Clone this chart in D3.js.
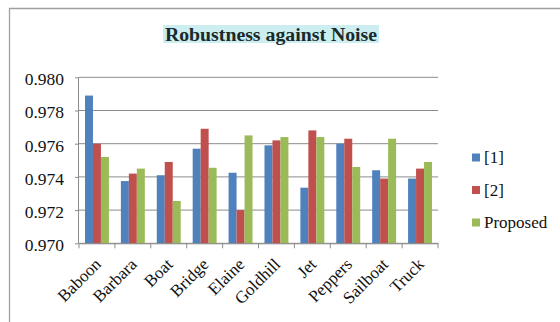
<!DOCTYPE html>
<html><head><meta charset="utf-8">
<script src="https://cdn.jsdelivr.net/npm/d3@7"></script>
<style>body{margin:0;background:#fff}svg{display:block}
text{font-family:"Liberation Serif","Times New Roman",serif}</style>
</head><body>
<svg id="c" width="560" height="322"></svg>
<script>
const categories = ["Baboon","Barbara","Boat","Bridge","Elaine","Goldhill","Jet","Peppers","Sailboat","Truck"];
const seriesNames = ["[1]","[2]","Proposed"];
const ref1 = [0.9789,0.97375,0.9741,0.9757,0.97425,0.9759,0.97335,0.9760,0.9744,0.9739];
const ref2 = [0.9760,0.9742,0.9749,0.9769,0.9720,0.9762,0.9768,0.9763,0.9739,0.9745];
const proposed = [0.9752,0.9745,0.97255,0.97455,0.9765,0.9764,0.9764,0.9746,0.9763,0.9749];
const yTicks = [0.970,0.972,0.974,0.976,0.978,0.980];
const colors = ["#4F81BD","#C0504D","#9BBB59"];
const title = "Robustness against Noise";

const series = [ref1, ref2, proposed];
const svg = d3.select("#c");
const pL = 79, pR = 438, pT = 77.3, pB = 243.3;

// outer border
svg.append("path").attr("d","M9.5,322 V8.5 H560").attr("fill","none").attr("stroke","#a0a0a0").attr("stroke-width",1.3);

const x = d3.scaleBand().domain(categories).range([pL,pR]).padding(0);
const bw = x.bandwidth();
const barW = bw/4.5;
const y = d3.scaleLinear().domain([0.970,0.980]).range([pB,pT]);

// gridlines
svg.append("g").selectAll("line").data(yTicks).join("line")
  .attr("x1",pL).attr("x2",pR).attr("y1",d=>y(d)).attr("y2",d=>y(d))
  .attr("stroke","#8c8c8c").attr("stroke-width",1);

// bars
const g = svg.append("g");
series.forEach((s,si)=>{
  g.selectAll(null).data(s).join("rect")
    .attr("x",(d,i)=>x(categories[i]) + barW*0.75 + si*barW)
    .attr("width",barW)
    .attr("y",d=>y(d))
    .attr("height",d=>y(0.970)-y(d))
    .attr("fill",colors[si]);
});

// y axis
const ya = svg.append("g").attr("transform",`translate(${pL},0)`)
  .call(d3.axisLeft(y).tickValues(yTicks).tickFormat(d3.format(".3f")).tickSize(4).tickPadding(11));
ya.select(".domain").attr("stroke","#8c8c8c").attr("d",`M-0.5,${pT}V${pB}`);
ya.selectAll(".tick line").attr("stroke","#8c8c8c");
ya.selectAll("text").attr("font-family",null).attr("font-size",17.5).attr("fill","#111").attr("dy","0.42em");

// x axis
const xa = svg.append("g").attr("transform",`translate(0,${pB})`)
  .call(d3.axisBottom(x).tickSize(0).tickFormat(""));
xa.select(".domain").attr("stroke","#8c8c8c");
xa.selectAll(".tick").remove();
const bounds = categories.map(c=>x(c)).concat([pR]);
xa.selectAll("line.sep").data(bounds).join("line").attr("class","sep")
  .attr("x1",d=>d).attr("x2",d=>d).attr("y1",0).attr("y2",5).attr("stroke","#8c8c8c");

svg.append("g").selectAll("text").data(categories).join("text")
  .attr("transform",d=>`translate(${x(d)+bw/2+5},${pB+22}) rotate(-45)`)
  .attr("text-anchor","end")
  .attr("font-size",17).attr("fill","#111")
  .text(d=>d);

// title
const tg = svg.append("g");
tg.append("rect").attr("x",163).attr("y",25).attr("width",216).attr("height",18).attr("fill","#cdeef0");
tg.append("text").attr("x",271).attr("y",41).attr("text-anchor","middle")
  .attr("font-weight","bold").attr("font-size",19.8).attr("fill","#1a2a2a").text(title);

// legend
const lg = svg.append("g").selectAll("g").data(seriesNames).join("g")
  .attr("transform",(d,i)=>`translate(472,${157.5+i*32.5})`);
lg.append("rect").attr("x",0).attr("y",-4).attr("width",8).attr("height",8).attr("fill",(d,i)=>colors[i]);
lg.append("text").attr("x",12).attr("y",0).attr("dy","0.35em")
  .attr("font-size",17).attr("fill","#111").text(d=>d);
</script>
</body></html>
